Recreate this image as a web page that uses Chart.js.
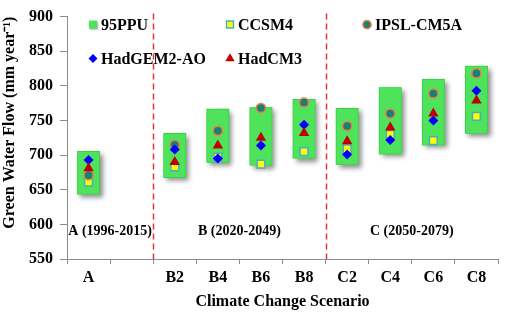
<!DOCTYPE html>
<html><head><meta charset="utf-8">
<script src="https://cdn.jsdelivr.net/npm/chart.js@4/dist/chart.umd.min.js"></script>
<style>html,body{margin:0;padding:0;background:#fff}#wrap{width:505px;height:313px;position:relative}</style>
</head><body><div id="wrap"><canvas id="c" width="505" height="313"></canvas></div>
<script>
const categories = ['A', '', 'B2', 'B4', 'B6', 'B8', 'C2', 'C4', 'C6', 'C8'];
const ppuLow  = [643, null, 667, 689, 685, 695, 686, 701, 714, 731];
const ppuHigh = [706, null, 732, 767, 769, 781, 768, 798, 810, 829];
const ccsm4   = [661, null, 683, 697, 687, 705, 709, 730, 721, 756];
const ipsl    = [671, null, 715, 735, 768, 776, 742, 760, 789, 818];
const hadgem  = [693, null, 708, 695, 714, 744, 701, 722, 750, 793];
const hadcm3  = [681, null, 690, 714, 725, 732, 720, 740, 760, 779];
const periodLabels = ['A (1996-2015)', 'B (2020-2049)', 'C (2050-2079)'];
const periodFirst = [0, 2, 6];
const periodLast  = [1, 5, 9];
const periodLabelValue = 590;
const dividerAfter = [1, 5];
const yMin = 550, yMax = 900, yStep = 50;

const FONT = 'Liberation Serif, Times New Roman, serif';

const ppuData = ppuLow.map((l, i) => l == null ? null : [l, ppuHigh[i]]);

const shadowPlugin = {
  id: 'shadow',
  beforeDatasetDraw(chart, args) {
    if (args.index !== 0) return;
    const ctx = chart.ctx;
    const meta = chart.getDatasetMeta(0);
    ctx.save();
    ctx.shadowColor = 'rgba(0,0,0,0.45)';
    ctx.shadowBlur = 5;
    ctx.shadowOffsetX = 3;
    ctx.shadowOffsetY = 3;
    ctx.fillStyle = '#4FE35C';
    meta.data.forEach(el => {
      const p = el.getProps(['x', 'y', 'base', 'width']);
      if (p.y == null || isNaN(p.y) || p.y === p.base) return;
      const top = Math.min(p.y, p.base), h = Math.abs(p.base - p.y);
      ctx.fillRect(p.x - p.width / 2, top, p.width, h);
    });
    ctx.restore();
  }
};

const decoPlugin = {
  id: 'deco',
  beforeDatasetsDraw(chart) {
    const ctx = chart.ctx, x = chart.scales.x, y = chart.scales.y, ca = chart.chartArea;
    ctx.save();
    ctx.strokeStyle = '#E8323C';
    ctx.lineWidth = 1.5;
    ctx.setLineDash([6, 4]);
    dividerAfter.forEach(i => {
      const px = Math.round((x.getPixelForValue(i) + x.getPixelForValue(i + 1)) / 2) + 0.5;
      ctx.beginPath();
      ctx.moveTo(px, ca.top - 3);
      ctx.lineTo(px, ca.bottom);
      ctx.stroke();
    });
    ctx.setLineDash([]);
    ctx.fillStyle = '#000';
    ctx.font = 'bold 14px ' + FONT;
    ctx.textAlign = 'center';
    ctx.textBaseline = 'middle';
    periodLabels.forEach((t, k) => {
      const px = (x.getPixelForValue(periodFirst[k]) + x.getPixelForValue(periodLast[k])) / 2;
      ctx.fillText(t, px, y.getPixelForValue(periodLabelValue));
    });
    ctx.restore();
  },
  afterDraw(chart) {
    const ctx = chart.ctx, ca = chart.chartArea;
    const ds = chart.data.datasets;
    const order = [0, 1, 2, 3, 4];
    const colX = [ca.left + 26, ca.left + 163, ca.left + 300];
    const rowY = [ca.top + 8, ca.top + 42];
    ctx.save();
    ctx.font = 'bold 16px ' + FONT;
    ctx.textBaseline = 'middle';
    ctx.textAlign = 'left';
    order.forEach((di, k) => {
      const d = ds[di];
      const cx = colX[k % 3], cy = rowY[Math.floor(k / 3)];
      if (d.type === 'bar') {
        ctx.save();
        ctx.shadowColor = 'rgba(0,0,0,0.35)';
        ctx.shadowBlur = 2; ctx.shadowOffsetX = 1; ctx.shadowOffsetY = 1;
        ctx.fillStyle = d.backgroundColor;
        ctx.fillRect(cx - 4, cy - 4, 8, 8);
        ctx.restore();
      } else {
        ctx.fillStyle = d.backgroundColor;
        ctx.strokeStyle = d.borderColor;
        ctx.lineWidth = d.pointBorderWidth;
        Chart.helpers.drawPoint(ctx, {pointStyle: d.pointStyle, rotation: 0,
          radius: d.pointRadius * 0.9, borderWidth: d.pointBorderWidth}, cx, cy);
      }
      ctx.fillStyle = '#000';
      ctx.fillText(d.label, cx + 8, cy + 1);
    });
    ctx.restore();
  }
};

function pts(label, data, style, bg, border, r, bw, ord) {
  return {
    type: 'line', label, data, showLine: false, pointStyle: style,
    backgroundColor: bg, borderColor: border, pointBackgroundColor: bg,
    pointBorderColor: border, pointRadius: r, pointHoverRadius: r,
    pointBorderWidth: bw, order: ord
  };
}

new Chart(document.getElementById('c'), {
  type: 'bar',
  data: {
    labels: categories,
    datasets: [
      { type: 'bar', label: '95PPU', data: ppuData, backgroundColor: '#4FE35C',
        borderColor: '#3FCB4C', borderWidth: 1, borderSkipped: false,
        categoryPercentage: 1, barPercentage: 0.53, order: 10 },
      pts('CCSM4', ccsm4, 'rect', '#FFFF00', '#4BACC6', 5.5, 1.5, 5),
      pts('IPSL-CM5A', ipsl, 'circle', '#17807E', '#F0803C', 4.6, 1.5, 4),
      pts('HadGEM2-AO', hadgem, 'rectRot', '#0000FF', '#0000FF', 5, 0, 3),
      pts('HadCM3', hadcm3, 'triangle', '#C00000', '#C00000', 6, 0, 2)
    ]
  },
  options: {
    responsive: false,
    animation: false,
    events: [],
    layout: { padding: { top: 7, right: 2, left: 0, bottom: 0 } },
    plugins: { legend: { display: false }, tooltip: { enabled: false } },
    scales: {
      x: {
        offset: true,
        grid: { offset: true, drawOnChartArea: false, color: '#8C8C8C', tickLength: 5 },
        border: { color: '#8C8C8C', width: 1 },
        ticks: { color: '#000', font: { family: FONT, size: 16, weight: 'bold' }, padding: 4, maxRotation: 0, autoSkip: false },
        title: { display: true, text: 'Climate Change Scenario', color: '#000',
                 font: { family: FONT, size: 16, weight: 'bold' }, padding: { top: 4, bottom: 2 } },
        afterFit(s) { s.height = 54; }
      },
      y: {
        min: yMin, max: yMax,
        ticks: { stepSize: yStep, color: '#000', font: { family: FONT, size: 16, weight: 'bold' }, padding: 7 },
        grid: { drawOnChartArea: false, color: '#8C8C8C', tickLength: 7 },
        border: { color: '#8C8C8C', width: 1 },
        title: { display: true, align: 'end', text: 'Green Water Flow (mm year\u207B\u00B9)', color: '#000',
                 font: { family: FONT, size: 16, weight: 'bold' }, padding: { top: 0, bottom: 0 } },
        afterFit(s) { s.width = 67; }
      }
    }
  },
  plugins: [shadowPlugin, decoPlugin]
});
</script></body></html>
